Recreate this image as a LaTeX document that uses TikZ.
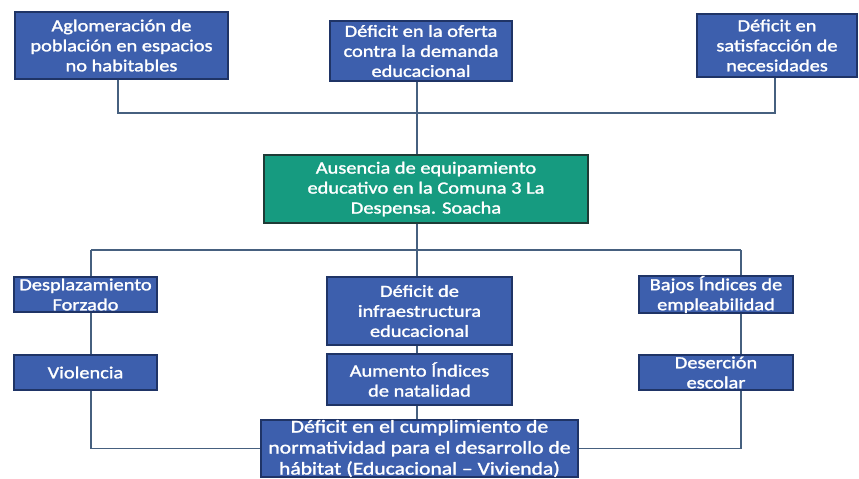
\documentclass[tikz,border=0pt]{standalone}
\usepackage{fontspec}
\setmainfont{Carlito}[FakeStretch=1.2]
\newfontfamily\boxfont{Carlito}[FakeStretch=1.2, FakeBold=1.6]
\definecolor{boxblue}{HTML}{3D5FAD}
\definecolor{boxedge}{HTML}{1F3466}
\definecolor{boxgreen}{HTML}{169B80}
\definecolor{greenedge}{HTML}{1E3B36}
\definecolor{linec}{HTML}{46607F}
\begin{document}
\begin{tikzpicture}[x=1pt,y=-1pt,
  bx/.style={draw=boxedge, line width=1.2pt, fill=boxblue, text=white, align=center,
    inner sep=0pt, font=\boxfont\fontsize{17}{20}\selectfont},
  gbx/.style={bx, fill=boxgreen, draw=greenedge},
  ln/.style={draw=linec, line width=1.1pt}]
\useasboundingbox (0,0) rectangle (859,479);
\fill[white] (0,0) rectangle (859,479);
% coordinates of the connector lines
\coordinate (L) at (91,250);
\coordinate (R) at (741,250);
\coordinate (mx) at (417,0);
% top row
\node[bx, minimum width=213pt, minimum height=67pt] (A) at (121.5,45.5)
  {Aglomeración de\\población en espacios\\no habitables};
\node[bx, minimum width=182pt, minimum height=60pt] (B) at (421,51)
  {Déficit en la oferta\\contra la demanda\\educacional};
\node[bx, minimum width=160pt, minimum height=63pt] (C) at (777,45.5)
  {Déficit en\\satisfacción de\\necesidades};
% center
\node[gbx, minimum width=324pt, minimum height=68pt] (G) at (426,189)
  {Ausencia de equipamiento\\educativo en la Comuna 3 La\\Despensa. Soacha};
% left column
\node[bx, minimum width=143pt, minimum height=35pt] (D1) at (85.5,294.5)
  {Desplazamiento\\Forzado};
\node[bx, minimum width=143pt, minimum height=35pt] (D2) at (85.5,372.5)
  {Violencia};
% middle column
\node[bx, minimum width=185pt, minimum height=68pt] (M1) at (419.5,311)
  {Déficit de\\infraestructura\\educacional};
\node[bx, minimum width=185pt, minimum height=51pt] (M2) at (419.5,379.5)
  {Aumento Índices\\de natalidad};
\node[bx, minimum width=317pt, minimum height=53pt, font=\boxfont\fontsize{18}{21}\selectfont] (Bot) at (419.5,448.5)
  {Déficit en el cumplimiento de\\normatividad para el desarrollo de\\hábitat (Educacional – Vivienda)};
% right column
\node[bx, minimum width=154pt, minimum height=35pt] (R1) at (716,294.5)
  {Bajos Índices de\\empleabilidad};
\node[bx, minimum width=154pt, minimum height=35pt] (R2) at (716,372.5)
  {Deserción\\escolar};
% top connectors
\draw[ln] (A.south -| 118,0) -- (118,113) -- (775,113) -- (C.south -| 775,0);
\draw[ln] (B.south -| mx) -- (G.north -| mx);
% lower connectors
\draw[ln] (G.south -| mx) -- (M1.north -| mx);
\draw[ln] (L) -- (R);
\draw[ln] (L) -- (L |- D1.north);
\draw[ln] (L |- D1.south) -- (L |- D2.north);
\draw[ln] (L |- D2.south) |- (Bot.west);
\draw[ln] (R) -- (R |- R1.north);
\draw[ln] (R |- R1.south) -- (R |- R2.north);
\draw[ln] (R |- R2.south) |- (Bot.east);
\draw[ln] (M1.south -| mx) -- (M2.north -| mx);
\draw[ln] (M2.south -| mx) -- (Bot.north -| mx);
\end{tikzpicture}
\end{document}
